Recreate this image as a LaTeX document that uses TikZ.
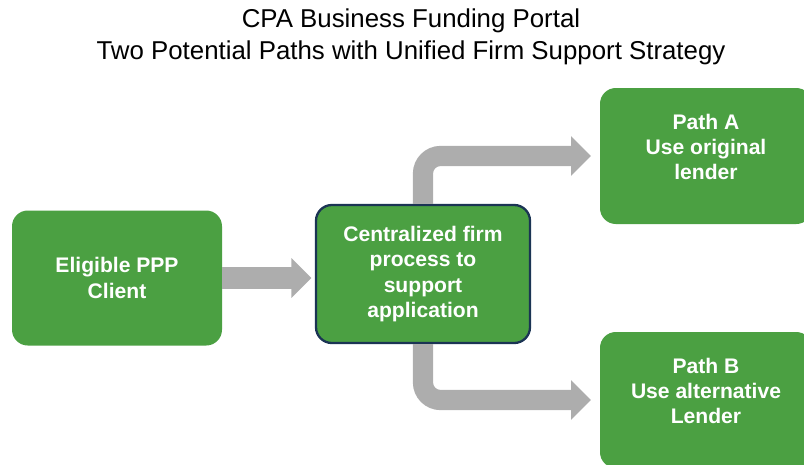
\documentclass[tikz,border=0pt]{standalone}
\usepackage{fontspec}
\setmainfont{Liberation Sans}
\usetikzlibrary{arrows.meta,positioning}

\definecolor{boxgreen}{RGB}{75,160,66}
\definecolor{navyline}{RGB}{27,52,84}

\begin{document}
\begin{tikzpicture}[
    x=0.02cm, y=-0.02cm,
    every node/.style={font=\fontsize{12}{14.4}\selectfont\bfseries},
    stage/.style={rectangle, rounded corners=9pt, fill=boxgreen, text=white, align=center, inner sep=2pt},
    hub/.style={stage, draw=navyline, line width=1.3pt},
    fatarrow/.style={draw=gray!64, line width=12.5pt, -{Triangle[length=11.3pt, width=22pt]}},
    elbow/.style={fatarrow, line width=11.5pt, rounded corners=10pt}
]
\useasboundingbox (0,0) rectangle (804,464);
\clip (0,0) rectangle (804,464);

% TITULO
\node[font=\fontsize{14.7}{18.2}\selectfont, align=center] (title) at (411,37)
    {CPA Business Funding Portal\\Two Potential Paths with Unified Firm Support Strategy};

% CAJAS
\node[stage, minimum width=210*0.02cm, minimum height=135*0.02cm] (client) at (117,278) {Eligible PPP\\Client};
\node[hub, minimum width=214*0.02cm, minimum height=138*0.02cm] (central) at (423,274) {Centralized firm\\process to\\support\\application};
\node[stage, minimum width=212*0.02cm, minimum height=136*0.02cm] (pathA) at (706,156) {Path A\\Use original\\lender\\[-4pt]};
\node[stage, minimum width=212*0.02cm, minimum height=136*0.02cm] (pathB) at (706,400) {Path B\\Use alternative\\Lender\\[-4pt]};

% FLECHAS
\draw[fatarrow, shorten >=2pt] (client.east) -- (client.east -| central.west);
\draw[elbow, shorten >=5pt] (central.north) |- (pathA.west);
\draw[elbow, shorten >=5pt] (central.south) |- (pathB.west);

\end{tikzpicture}
\end{document}
